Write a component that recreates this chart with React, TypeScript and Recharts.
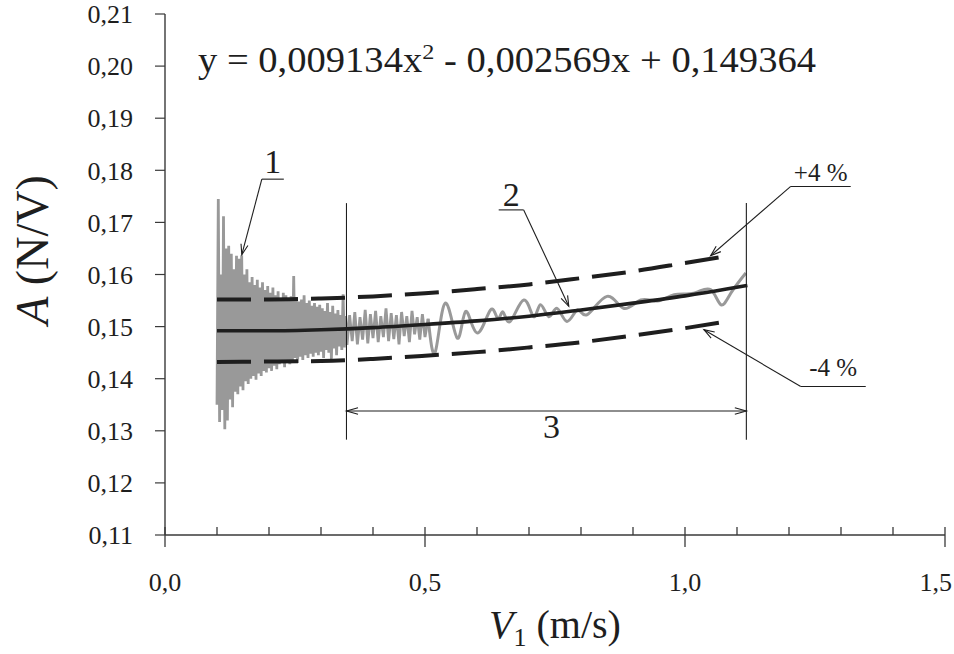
import { ComposedChart, Line, XAxis, YAxis, ReferenceLine, ReferenceDot, Label } from 'recharts';

const X_TICKS = [0, 0.1, 0.2, 0.3, 0.4, 0.5, 0.6, 0.7, 0.8, 0.9, 1.0, 1.1, 1.2, 1.3, 1.4, 1.5];
const Y_TICKS = [0.11, 0.12, 0.13, 0.14, 0.15, 0.16, 0.17, 0.18, 0.19, 0.2, 0.21];

// curve 2 (quadratic fit)
const FIT_X = [0.1, 0.2, 0.3, 0.4, 0.5, 0.6, 0.7, 0.8, 0.9, 1.0, 1.08, 1.12];
const FIT_Y = [0.1492, 0.1492, 0.1494, 0.1498, 0.1504, 0.1511, 0.152, 0.1532, 0.1545, 0.1559, 0.1572, 0.1579];

// +4 % / -4 % dashed bands
const BAND_X = [0.1, 0.2, 0.3, 0.4, 0.5, 0.6, 0.7, 0.8, 0.9, 1.0, 1.08];
const UPPER_Y = [0.1552, 0.1552, 0.1554, 0.1558, 0.1564, 0.1572, 0.1581, 0.1593, 0.1606, 0.1622, 0.1635];
const LOWER_Y = [0.1432, 0.1433, 0.1434, 0.1438, 0.1444, 0.1451, 0.146, 0.147, 0.1483, 0.1497, 0.151];

// curve 1, measured signal - noisy low-speed part
const RAW_DENSE: [number, number][] = [
  [0.1, 0.135], [0.1025, 0.1745], [0.105, 0.1317], [0.1075, 0.16], [0.11, 0.134], [0.1125, 0.1712],
  [0.115, 0.1303], [0.1175, 0.165], [0.12, 0.132], [0.1225, 0.1655], [0.125, 0.136], [0.1275, 0.164],
  [0.13, 0.1345], [0.1325, 0.161], [0.135, 0.1375], [0.1375, 0.1636], [0.14, 0.137], [0.1425, 0.163],
  [0.145, 0.1385], [0.1475, 0.1637], [0.15, 0.1378], [0.1525, 0.16], [0.155, 0.1395], [0.1575, 0.161],
  [0.16, 0.139], [0.1625, 0.1585], [0.165, 0.14], [0.1675, 0.1595], [0.17, 0.1405], [0.1725, 0.158],
  [0.175, 0.1398], [0.1775, 0.159], [0.18, 0.141], [0.1825, 0.1575], [0.185, 0.1405], [0.1875, 0.1585],
  [0.19, 0.1415], [0.1925, 0.157], [0.195, 0.1412], [0.1975, 0.1578], [0.2, 0.142], [0.2025, 0.1565],
  [0.205, 0.1415], [0.2075, 0.1575], [0.21, 0.1425], [0.2125, 0.156], [0.215, 0.1418], [0.2175, 0.1568],
  [0.22, 0.1428], [0.2225, 0.1555], [0.225, 0.143], [0.2275, 0.1565], [0.23, 0.1422], [0.2325, 0.156],
  [0.235, 0.1432], [0.2375, 0.155], [0.24, 0.1428], [0.2425, 0.1558], [0.245, 0.1435], [0.2475, 0.1597],
  [0.25, 0.144], [0.2525, 0.1555], [0.255, 0.143], [0.2575, 0.1548], [0.26, 0.1442], [0.2625, 0.1552],
  [0.265, 0.1436], [0.2675, 0.156], [0.27, 0.1445], [0.2725, 0.1545], [0.275, 0.144], [0.2775, 0.155],
  [0.28, 0.1448], [0.2825, 0.154], [0.285, 0.1442], [0.2875, 0.1545], [0.29, 0.145], [0.2925, 0.1538],
  [0.295, 0.1445], [0.2975, 0.1542], [0.3, 0.1452], [0.3025, 0.1535], [0.305, 0.144], [0.3075, 0.153],
  [0.31, 0.1455], [0.3125, 0.1545], [0.315, 0.145], [0.3175, 0.1528], [0.32, 0.1438], [0.3225, 0.154],
  [0.325, 0.1458], [0.3275, 0.1525], [0.33, 0.1445], [0.3325, 0.1532], [0.335, 0.1462], [0.3375, 0.1522],
  [0.34, 0.1455], [0.3425, 0.1562], [0.345, 0.146], [0.3475, 0.152], [0.35, 0.1465], [0.355, 0.1522],
  [0.36, 0.1472], [0.365, 0.1528], [0.37, 0.1466], [0.375, 0.1518], [0.38, 0.1475], [0.385, 0.1532],
  [0.39, 0.1468], [0.395, 0.1524], [0.4, 0.1478], [0.405, 0.153], [0.41, 0.147], [0.415, 0.152],
  [0.42, 0.148], [0.425, 0.1535], [0.43, 0.1472], [0.435, 0.1526], [0.44, 0.1476], [0.445, 0.1522],
  [0.45, 0.1466], [0.455, 0.1528], [0.46, 0.1482], [0.465, 0.152], [0.47, 0.147], [0.475, 0.153],
  [0.48, 0.1485], [0.485, 0.1518], [0.49, 0.1475], [0.495, 0.1524], [0.5, 0.148], [0.506, 0.1515],
];

// curve 1, smoother high-speed part
const RAW_SMOOTH: [number, number][] = [
  [0.506, 0.1515], [0.52, 0.1452], [0.539, 0.1545], [0.562, 0.1478], [0.578, 0.1529], [0.6, 0.1488],
  [0.626, 0.1532], [0.64, 0.1515], [0.65, 0.1528], [0.664, 0.151], [0.69, 0.1551], [0.709, 0.1519],
  [0.722, 0.1542], [0.738, 0.1519], [0.754, 0.1535], [0.773, 0.151], [0.793, 0.1532], [0.812, 0.1523],
  [0.85, 0.1558], [0.882, 0.1535], [0.915, 0.1551], [0.947, 0.1549], [0.979, 0.1561], [1.017, 0.1564],
  [1.049, 0.1571], [1.069, 0.1542], [1.088, 0.1564], [1.117, 0.1603],
];

// annotation anchors (data coords)
const RANGE_START = 0.349;
const RANGE_END = 1.118;
const RANGE_Y = [0.1283, 0.1737];
const DIM_Y = 0.1338;

const AXIS = '#3a3a3a';
const INK = '#1e1e1e';
const GREY = '#999999';
const FONT = '"Liberation Serif", "Times New Roman", serif';

const pts = (xs: number[], ys: number[]) => xs.map((x, i) => ({ x, y: ys[i] }));
const pairs = (a: [number, number][]) => a.map(([x, y]) => ({ x, y }));

const fitData = pts(FIT_X, FIT_Y);
const upperData = pts(BAND_X, UPPER_Y);
const lowerData = pts(BAND_X, LOWER_Y);
const denseData = pairs(RAW_DENSE);
const smoothData = pairs(RAW_SMOOTH);

function arrowHead(fx: number, fy: number, tx: number, ty: number, len = 11, ang = 0.33) {
  const a = Math.atan2(fy - ty, fx - tx);
  const p1 = [tx + len * Math.cos(a + ang), ty + len * Math.sin(a + ang)];
  const p2 = [tx + len * Math.cos(a - ang), ty + len * Math.sin(a - ang)];
  return (
    <polyline
      points={`${p1[0]},${p1[1]} ${tx},${ty} ${p2[0]},${p2[1]}`}
      fill="none"
      stroke={INK}
      strokeWidth={1.1}
    />
  );
}

function leader(text: string, side: number, len: number, gap: number, size: number) {
  return (p: any) => {
    const { x1, y1, x2, y2 } = p;
    const ux = x1 + side * len;
    return (
      <g>
        <line x1={x1} y1={y1} x2={ux} y2={y1} stroke={INK} strokeWidth={1.1} />
        <line x1={x1} y1={y1} x2={x2} y2={y2} stroke={INK} strokeWidth={1.1} />
        {arrowHead(x1, y1, x2, y2)}
        <text x={(x1 + ux) / 2} y={y1 - gap} textAnchor="middle" fontFamily={FONT} fontSize={size} fill={INK}>
          {text}
        </text>
      </g>
    );
  };
}

const dimension = (p: any) => {
  const { x1, y1, x2, y2 } = p;
  return (
    <g>
      <line x1={x1} y1={y1} x2={x2} y2={y2} stroke={INK} strokeWidth={1.1} />
      {arrowHead(x2, y2, x1, y1, 12, 0.28)}
      {arrowHead(x1, y1, x2, y2, 12, 0.28)}
      <text x={(x1 + x2) / 2 + 5} y={y1 + 27} textAnchor="middle" fontFamily={FONT} fontSize={34} fill={INK}>
        3
      </text>
    </g>
  );
};

const equation = (p: any) => (
  <text x={p.cx} y={p.cy} fontFamily={FONT} fontSize={35} fill={INK} textLength={618} lengthAdjust="spacingAndGlyphs">
    y = 0,009134x
    <tspan dy={-13} fontSize={22}>2</tspan>
    <tspan dy={13}> - 0,002569x + 0,149364</tspan>
  </text>
);

const XTick = (p: any) => {
  const { x, y, payload } = p;
  const v = payload.value as number;
  const major = Math.abs(v * 2 - Math.round(v * 2)) < 1e-6;
  const last = v > 1.49;
  return (
    <g>
      <line x1={x} x2={x} y1={y - 8} y2={major ? y + 12 : y} stroke={AXIS} strokeWidth={1.3} />
      {major && (
        <text
          x={last ? 952 : x}
          y={y + 56}
          textAnchor={last ? 'end' : 'middle'}
          fontFamily={FONT}
          fontSize={26}
          fill={INK}
        >
          {v.toFixed(1).replace('.', ',')}
        </text>
      )}
    </g>
  );
};

const yTitle = () => (
  <text x={48} y={250} transform="rotate(-90 48 250)" textAnchor="middle" fontFamily={FONT} fontSize={46} fill={INK}>
    <tspan fontStyle="italic">A</tspan> (N/V)
  </text>
);

const xTitle = () => (
  <text x={555} y={638} textAnchor="middle" fontFamily={FONT} fontSize={40} fill={INK}>
    <tspan fontStyle="italic">V</tspan>
    <tspan fontSize={26} dy={8}>1</tspan>
    <tspan dy={-8}> (m/s)</tspan>
  </text>
);

export default function App() {
  return (
    <div style={{ position: 'absolute', left: 0, top: 0, background: '#fff' }}>
      <ComposedChart width={954} height={654} margin={{ top: 14, right: 9, bottom: 59, left: 0 }}>
        <XAxis
          dataKey="x"
          type="number"
          domain={[0, 1.5]}
          ticks={X_TICKS}
          interval={0}
          height={60}
          tickSize={0}
          tickMargin={0}
          tickLine={false}
          tick={<XTick />}
          axisLine={{ stroke: AXIS, strokeWidth: 1.4 }}
          allowDataOverflow
        >
          <Label content={xTitle} />
        </XAxis>
        <XAxis xAxisId="top" orientation="top" type="number" domain={[0, 1]} height={0} tick={false} tickLine={false} axisLine={{ stroke: AXIS, strokeWidth: 1.2 }} />
        <YAxis
          type="number"
          domain={[0.11, 0.21]}
          ticks={Y_TICKS}
          interval={0}
          width={165}
          tickSize={10}
          tickMargin={22}
          tickFormatter={(v: number) => v.toFixed(2).replace('.', ',')}
          tick={{ fontFamily: FONT, fontSize: 26, fill: INK }}
          tickLine={{ stroke: AXIS, strokeWidth: 1.2 }}
          axisLine={{ stroke: AXIS, strokeWidth: 1.4 }}
          allowDataOverflow
        >
          <Label content={yTitle} />
        </YAxis>
        <YAxis yAxisId="r" orientation="right" type="number" domain={[0, 1]} width={0} tick={false} tickLine={false} axisLine={{ stroke: AXIS, strokeWidth: 1.4 }} />

        <Line data={denseData} dataKey="y" type="linear" stroke={GREY} strokeWidth={2.8} dot={false} isAnimationActive={false} />
        <Line data={smoothData} dataKey="y" type="natural" stroke={GREY} strokeWidth={3} dot={false} isAnimationActive={false} />
        <Line data={upperData} dataKey="y" type="monotone" stroke={INK} strokeWidth={4} strokeDasharray="34 13" dot={false} isAnimationActive={false} />
        <Line data={lowerData} dataKey="y" type="monotone" stroke={INK} strokeWidth={4} strokeDasharray="34 13" dot={false} isAnimationActive={false} />
        <Line data={fitData} dataKey="y" type="monotone" stroke={INK} strokeWidth={3.6} dot={false} isAnimationActive={false} />

        <ReferenceLine segment={[{ x: RANGE_START, y: RANGE_Y[0] }, { x: RANGE_START, y: RANGE_Y[1] }]} stroke={INK} strokeWidth={1.1} />
        <ReferenceLine segment={[{ x: RANGE_END, y: RANGE_Y[0] }, { x: RANGE_END, y: RANGE_Y[1] }]} stroke={INK} strokeWidth={1.1} />
        <ReferenceLine segment={[{ x: RANGE_START, y: DIM_Y }, { x: RANGE_END, y: DIM_Y }]} shape={dimension} />

        <ReferenceLine segment={[{ x: 0.1862, y: 0.1783 }, { x: 0.1477, y: 0.1638 }]} shape={leader('1', 1, 22, 6, 34)} />
        <ReferenceLine segment={[{ x: 0.6898, y: 0.1724 }, { x: 0.7765, y: 0.1539 }]} shape={leader('2', -1, 25, 4, 34)} />
        <ReferenceLine segment={[{ x: 1.2033, y: 0.1769 }, { x: 1.0493, y: 0.1636 }]} shape={leader('+4 %', 1, 60, 5, 25)} />
        <ReferenceLine segment={[{ x: 1.2226, y: 0.1385 }, { x: 1.0364, y: 0.1494 }]} shape={leader('-4 %', 1, 65, 11, 25)} />

        <ReferenceDot x={0.0635} y={0.1989} r={0} shape={equation} />
      </ComposedChart>
    </div>
  );
}
